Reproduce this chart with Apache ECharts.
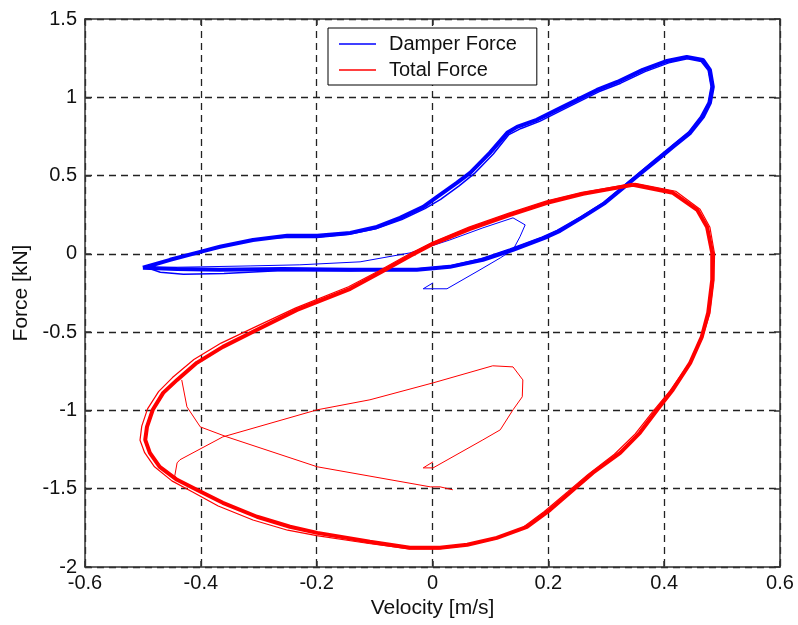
<!DOCTYPE html>
<html lang="en">
<head>
    <meta charset="UTF-8">
    <title>Damper Force / Total Force vs Velocity</title>
    <script src="https://cdn.jsdelivr.net/npm/echarts@6.0.0/dist/echarts.min.js"></script>
    <style>
        html, body { margin: 0; padding: 0; background: #fff; }
    </style>
</head>
<body>
    <div id="chart" style="width: 798px; height: 625px;"></div>
    <script>
        // velocity [m/s], force [kN] pairs
        const xTicks = { min: -0.6, max: 0.6, step: 0.2 };
        const yTicks = { min: -2, max: 1.5, step: 0.5 };

        // damper force: start-up transient, then the steady loop (two traces of the band)
        const damperStart = [
            [0.001, -0.185], [-0.016, -0.223], [0.025, -0.223], [0.082, -0.102], [0.117, -0.026],
            [0.139, 0.026], [0.151, 0.109], [0.160, 0.185], [0.139, 0.230], [0.087, 0.166],
            [0.030, 0.089], [-0.039, 0.006], [-0.125, -0.051], [-0.229, -0.070], [-0.315, -0.077],
            [-0.401, -0.083], [-0.500, -0.089]
        ];
        const damperLoop = [
            [-0.500, -0.089], [-0.453, -0.038], [-0.401, 0.013], [-0.367, 0.045], [-0.310, 0.089],
            [-0.251, 0.115], [-0.199, 0.115], [-0.142, 0.134], [-0.096, 0.172], [-0.056, 0.230],
            [-0.016, 0.300], [0.008, 0.364], [0.042, 0.453], [0.065, 0.517], [0.099, 0.645],
            [0.129, 0.773], [0.146, 0.811], [0.180, 0.856], [0.225, 0.939], [0.284, 1.047],
            [0.319, 1.098], [0.363, 1.175], [0.405, 1.232], [0.439, 1.258], [0.467, 1.239],
            [0.479, 1.175], [0.484, 1.066], [0.479, 0.964], [0.467, 0.875], [0.445, 0.773],
            [0.415, 0.683], [0.388, 0.600], [0.358, 0.511], [0.329, 0.421], [0.298, 0.326],
            [0.260, 0.236], [0.220, 0.147], [0.198, 0.109], [0.139, 0.026], [0.087, -0.038],
            [0.030, -0.083], [-0.027, -0.102], [-0.142, -0.102], [-0.258, -0.096], [-0.367, -0.102],
            [-0.441, -0.096], [-0.500, -0.089]
        ];
        const damperLoop2 = [
            [-0.497, -0.083], [-0.451, -0.034], [-0.400, 0.017], [-0.363, 0.050], [-0.305, 0.093],
            [-0.250, 0.106], [-0.200, 0.104], [-0.146, 0.124], [-0.098, 0.160], [-0.053, 0.219],
            [-0.013, 0.289], [0.014, 0.348], [0.046, 0.434], [0.072, 0.512], [0.105, 0.638],
            [0.132, 0.762], [0.153, 0.801], [0.185, 0.846], [0.228, 0.926], [0.287, 1.035],
            [0.325, 1.090], [0.367, 1.164], [0.408, 1.220], [0.440, 1.246], [0.464, 1.229],
            [0.476, 1.172], [0.481, 1.068], [0.476, 0.967], [0.463, 0.878], [0.442, 0.777],
            [0.412, 0.687], [0.384, 0.602], [0.354, 0.508], [0.324, 0.417], [0.294, 0.324],
            [0.255, 0.234], [0.215, 0.150], [0.189, 0.106], [0.134, 0.032], [0.083, -0.033],
            [0.030, -0.078], [-0.029, -0.097], [-0.141, -0.108], [-0.259, -0.106], [-0.360, -0.125],
            [-0.430, -0.130], [-0.470, -0.118], [-0.497, -0.083]
        ];

        // total force: start-up transient, steady loop (two traces), and the final stretch
        const totalStart = [
            [0.001, -1.328], [-0.016, -1.367], [0.001, -1.367], [0.087, -1.188], [0.117, -1.124],
            [0.139, -0.996], [0.155, -0.913], [0.156, -0.805], [0.139, -0.722], [0.104, -0.715],
            [0.001, -0.824], [-0.108, -0.932], [-0.199, -0.996], [-0.362, -1.169], [-0.436, -1.315],
            [-0.441, -1.335], [-0.445, -1.418], [-0.441, -1.443]
        ];
        const totalLoop = [
            [0.346, 0.441], [0.415, 0.390], [0.457, 0.281], [0.474, 0.172], [0.483, 0.006],
            [0.483, -0.166], [0.476, -0.377], [0.465, -0.530], [0.445, -0.696], [0.415, -0.868],
            [0.388, -0.996], [0.358, -1.143], [0.324, -1.271], [0.277, -1.398], [0.243, -1.507],
            [0.203, -1.635], [0.163, -1.743], [0.111, -1.814], [0.060, -1.858], [0.013, -1.877],
            [-0.039, -1.877], [-0.108, -1.839], [-0.199, -1.782], [-0.246, -1.743], [-0.303, -1.679],
            [-0.362, -1.590], [-0.407, -1.507], [-0.441, -1.443], [-0.471, -1.360], [-0.488, -1.271],
            [-0.496, -1.188], [-0.493, -1.105], [-0.483, -0.996], [-0.465, -0.888], [-0.441, -0.805],
            [-0.407, -0.696], [-0.362, -0.594], [-0.303, -0.485], [-0.234, -0.358], [-0.142, -0.223],
            [-0.091, -0.121], [-0.039, -0.013], [0.001, 0.064], [0.065, 0.160], [0.134, 0.249],
            [0.198, 0.326], [0.260, 0.383], [0.346, 0.441]
        ];
        const totalLoop2 = [
            [0.350, 0.450], [0.420, 0.400], [0.462, 0.285], [0.479, 0.170], [0.487, 0.000],
            [0.486, -0.170], [0.479, -0.380], [0.466, -0.535], [0.443, -0.700], [0.410, -0.875],
            [0.382, -1.000], [0.350, -1.150], [0.314, -1.280], [0.268, -1.410], [0.233, -1.520],
            [0.193, -1.645], [0.153, -1.755], [0.103, -1.825], [0.053, -1.866], [0.010, -1.885],
            [-0.040, -1.885], [-0.110, -1.850], [-0.200, -1.800], [-0.250, -1.765], [-0.310, -1.700],
            [-0.370, -1.610], [-0.415, -1.520], [-0.450, -1.450], [-0.480, -1.360], [-0.497, -1.270],
            [-0.505, -1.190], [-0.502, -1.100], [-0.492, -0.990], [-0.473, -0.880], [-0.449, -0.790],
            [-0.412, -0.675], [-0.365, -0.570], [-0.305, -0.465], [-0.236, -0.345], [-0.145, -0.210],
            [-0.093, -0.110], [-0.041, -0.003], [0.000, 0.074], [0.063, 0.171], [0.132, 0.260],
            [0.196, 0.337], [0.258, 0.393], [0.350, 0.450]
        ];
        const totalEnd = [
            [-0.433, -0.805], [-0.424, -0.977], [-0.401, -1.105], [-0.355, -1.169], [-0.199, -1.360],
            [-0.004, -1.488], [0.013, -1.488], [0.035, -1.507]
        ];

        const BLUE = "#0000ff";
        const RED = "#ff0000";
        const FONT = "Liberation Sans";

        var myChart = echarts.init(document.getElementById("chart"));

        function line(name, data, color, width) {
            return {
                name: name,
                type: "line",
                data: data,
                showSymbol: false,
                symbol: "none",
                color: color,
                lineStyle: { color: color, width: width },
                animation: false,
                silent: true
            };
        }

        const boxLine = { show: true, onZero: false, lineStyle: { color: "#333", width: 1.5 } };
        const inTick = { show: true, inside: true, length: 6, lineStyle: { color: "#333", width: 1.5 } };
        const gridLine = { show: true, lineStyle: { color: "#222", width: 1.3, type: [7, 5] } };

        const option = {
            backgroundColor: "#fff",
            animation: false,
            grid: { left: 85, right: 18, top: 19, bottom: 58 },
            legend: {
                orient: "vertical",
                left: 328,
                top: 28,
                data: ["Damper Force", "Total Force"],
                icon: "rect",
                itemWidth: 37,
                itemHeight: 1.5,
                itemGap: 6,
                padding: [6, 20, 5, 11],
                backgroundColor: "#fff",
                borderColor: "#000",
                borderWidth: 1,
                borderRadius: 0,
                textStyle: { fontFamily: FONT, fontSize: 20, color: "#111", lineHeight: 20, padding: [0, 0, 0, 8] }
            },
            xAxis: [{
                type: "value",
                min: xTicks.min, max: xTicks.max, interval: xTicks.step,
                name: "Velocity [m/s]",
                nameLocation: "middle",
                nameGap: 29,
                nameTextStyle: { fontFamily: FONT, fontSize: 21, color: "#111" },
                axisLine: boxLine,
                axisTick: inTick,
                splitLine: gridLine,
                axisLabel: { fontFamily: FONT, fontSize: 20, color: "#111", margin: 6 }
            }, {
                type: "value", position: "top",
                min: xTicks.min, max: xTicks.max, interval: xTicks.step,
                axisLine: boxLine, axisTick: inTick,
                splitLine: { show: false }, axisLabel: { show: false }
            }],
            yAxis: [{
                type: "value",
                min: yTicks.min, max: yTicks.max, interval: yTicks.step,
                name: "Force [kN]",
                nameLocation: "middle",
                nameGap: 50,
                nameTextStyle: { fontFamily: FONT, fontSize: 21, color: "#111" },
                axisLine: boxLine,
                axisTick: inTick,
                splitLine: gridLine,
                axisLabel: { fontFamily: FONT, fontSize: 20, color: "#111", margin: 8 }
            }, {
                type: "value", position: "right",
                min: yTicks.min, max: yTicks.max, interval: yTicks.step,
                axisLine: boxLine, axisTick: inTick,
                splitLine: { show: false }, axisLabel: { show: false }
            }],
            series: [
                line("Damper Force", damperStart, BLUE, 1),
                line("Damper Force", damperLoop2, BLUE, 1.5),
                line("Damper Force", damperLoop, BLUE, 4),
                line("Total Force", totalStart, RED, 1),
                line("Total Force", totalEnd, RED, 1),
                line("Total Force", totalLoop2, RED, 1.2),
                line("Total Force", totalLoop, RED, 4)
            ]
        };

        myChart.setOption(option);
    </script>
</body>
</html>
